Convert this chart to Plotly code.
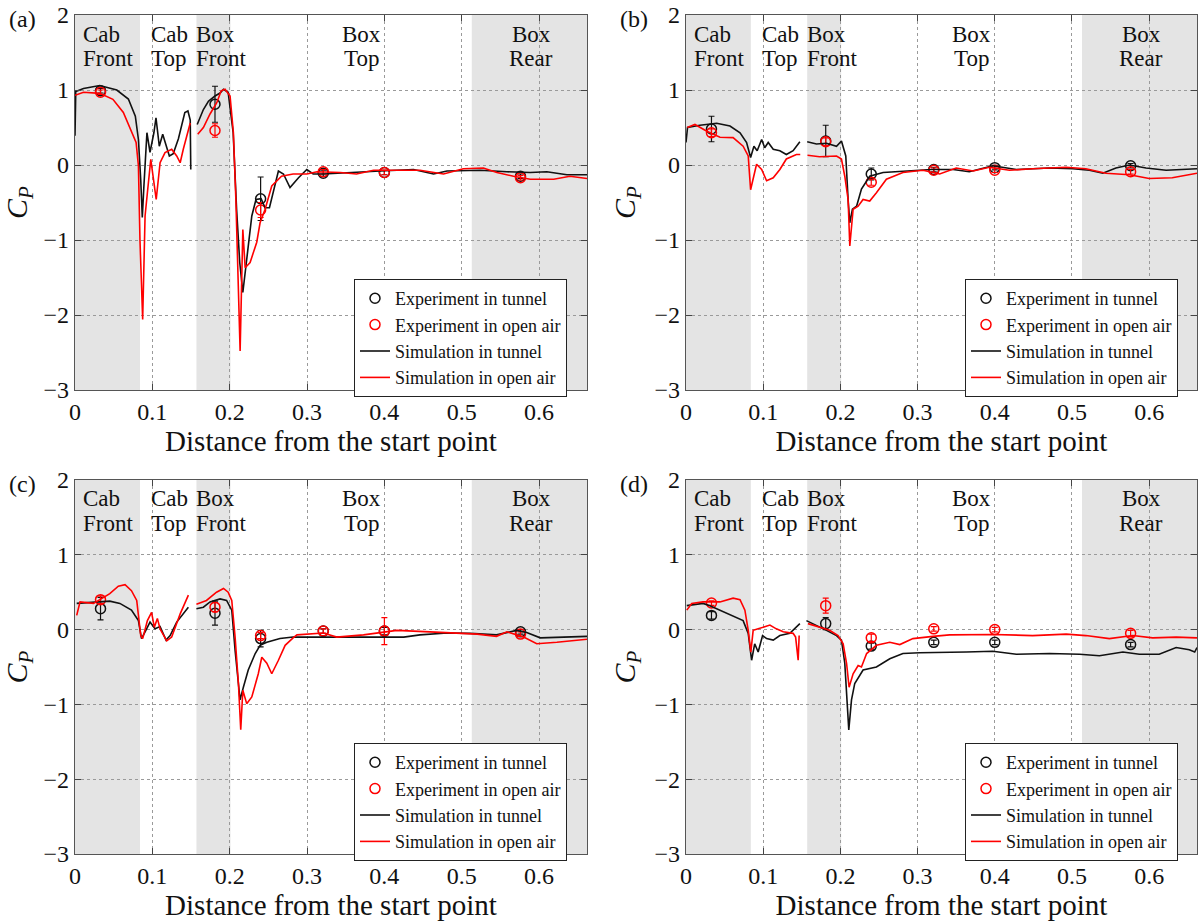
import plotly.graph_objects as go
from plotly.subplots import make_subplots

# Pressure-tap locations shared by all four cases
EXP_X = [0.033, 0.181, 0.240, 0.321, 0.400, 0.576]

# ---------------- (a) ----------------
a_tunnel_x = [0, 0.001, 0.011, 0.032, 0.054, 0.069, 0.078, 0.082, 0.085, 0.087, 0.089, 0.093, 0.097, 0.102,
              0.1047, 0.109, 0.1134, 0.1164, 0.122, 0.127, 0.1337, 0.142, 0.146, 0.149, 0.1497, None,
              0.158, 0.166, 0.1725, 0.181, 0.1876, 0.192, 0.198, 0.2045, 0.209, 0.213, 0.217, 0.222, 0.2286,
              0.234, 0.2406, 0.2458, 0.2514, 0.263, 0.2695, 0.278, 0.289, 0.2997, 0.308, 0.321, 0.351,
              0.3946, 0.4377, 0.4636, 0.481, 0.524, 0.5585, 0.5886, 0.610, 0.636, 0.662]
a_tunnel_y = [0.39, 0.98, 1.02, 1.06, 1.0, 0.88, 0.65, 0.34, -0.2, -0.7, -0.3, 0.43, 0.17, 0.43,
              0.63, 0.25, 0.41, 0.30, 0.12, 0.15, 0.35, 0.70, 0.72, 0.60, -0.06, None,
              0.54, 0.74, 0.85, 0.92, 0.96, 1.01, 0.97, 0.43, -0.6, -1.3, -1.70, -1.26, -0.68,
              -0.46, -0.45, -0.57, -0.57, -0.08, -0.12, -0.30, -0.17, -0.06, -0.12, -0.12, -0.10,
              -0.08, -0.06, -0.12, -0.08, -0.07, -0.09, -0.10, -0.09, -0.13, -0.13]
a_air_x = [0, 0.011, 0.032, 0.049, 0.0625, 0.073, 0.079, 0.082, 0.084, 0.0875, 0.0906, 0.0936, 0.098, 0.105,
           0.11, 0.1164, 0.125, 0.1315, 0.136, 0.14, 0.1466, 0.149, None,
           0.1587, 0.166, 0.1746, 0.1833, 0.189, 0.194, 0.2005, 0.2048, 0.208, 0.2135, 0.217, 0.22, 0.2264,
           0.235, 0.2393, 0.2458, 0.2544, 0.267, 0.282, 0.2997, 0.313, 0.321, 0.343, 0.364, 0.386, 0.416,
           0.446, 0.4765, 0.502, 0.528, 0.5455, 0.567, 0.5886, 0.619, 0.640, 0.662]
a_air_y = [0.93, 0.97, 0.955, 0.876, 0.70, 0.45, 0.30, -0.01, -1.0, -2.06, -0.68, -0.37, 0.076, -0.46,
           0.03, 0.165, 0.21, 0.12, 0.03, 0.21, 0.48, 0.56, None,
           0.41, 0.50, 0.68, 0.83, 0.99, 1.01, 0.92, 0.43, -0.46, -2.48, -0.86, -1.37, -1.30,
           -1.03, -0.77, -0.59, -0.28, -0.15, -0.12, -0.12, -0.09, -0.09, -0.10, -0.12, -0.07, -0.07,
           -0.07, -0.12, -0.05, -0.04, -0.10, -0.15, -0.19, -0.19, -0.15, -0.18]
a_exp_tunnel = [0.99, 0.81, -0.45, -0.11, -0.10, -0.15]
a_err_tunnel = [0.03, 0.24, 0.29, 0.04, 0.03, 0.03]
a_exp_air = [0.97, 0.46, -0.60, -0.09, -0.10, -0.17]
a_err_air = [0.03, 0.09, 0.10, 0.03, 0.03, 0.03]

# ---------------- (b) ----------------
b_tunnel_x = [0.0, 0.002, 0.018, 0.0397, 0.057, 0.07, 0.0785, 0.0837, 0.088, 0.0922, 0.098, 0.102, 0.1065,
              0.113, 0.1216, 0.130, 0.1388, 0.1475, None,
              0.157, 0.169, 0.182, 0.195, 0.2014, 0.207, 0.21, 0.2122, 0.2156, 0.221, 0.2273, 0.238, 0.2553,
              0.281, 0.318, 0.346, 0.367, 0.3975, 0.428, 0.471, 0.501, 0.5226, 0.54, 0.557, 0.5744, 0.596,
              0.622, 0.662]
b_tunnel_y = [0.30, 0.50, 0.53, 0.556, 0.52, 0.43, 0.30, 0.10, 0.25, 0.19, 0.34, 0.23, 0.30,
              0.21, 0.19, 0.14, 0.19, 0.31, None,
              0.31, 0.28, 0.29, 0.25, 0.32, 0.12, -0.46, -0.77, -0.59, -0.55, -0.32, -0.15, -0.10,
              -0.08, -0.06, -0.06, -0.09, -0.01, -0.06, -0.04, -0.05, -0.07, -0.11, -0.04, 0.0, -0.04,
              -0.07, -0.05]
b_air_x = [0.0016, 0.0116, 0.027, 0.0397, 0.044, 0.061, 0.074, 0.0806, 0.0837, 0.0914, 0.098, 0.1044, 0.113,
           0.1216, 0.130, 0.143, 0.148, None,
           0.1574, 0.173, 0.195, 0.2014, 0.2057, 0.21, 0.2122, 0.2165, 0.223, 0.2294, 0.238, 0.2467, 0.2596,
           0.281, 0.307, 0.3286, 0.35, 0.372, 0.393, 0.419, 0.449, 0.4925, 0.518, 0.544, 0.5744, 0.60,
           0.63, 0.662]
b_air_y = [0.50, 0.54, 0.45, 0.39, 0.37, 0.365, 0.25, 0.12, -0.33, 0.01, -0.06, -0.21, -0.17,
           -0.06, 0.08, 0.14, 0.14, None,
           0.13, 0.11, 0.12, 0.08, -0.15, -0.46, -1.08, -0.59, -0.55, -0.46, -0.48, -0.37, -0.19,
           -0.10, -0.07, -0.12, -0.04, -0.08, -0.03, -0.07, -0.05, -0.03, -0.05, -0.11, -0.13, -0.18,
           -0.17, -0.11]
b_exp_tunnel = [0.48, 0.32, -0.12, -0.06, -0.035, -0.01]
b_err_tunnel = [0.17, 0.21, 0.08, 0.03, 0.03, 0.03]
b_exp_air = [0.43, 0.31, -0.23, -0.07, -0.07, -0.09]
b_err_air = [0.05, 0.05, 0.04, 0.03, 0.03, 0.03]

# ---------------- (c) ----------------
c_tunnel_x = [0.0022, 0.024, 0.045, 0.058, 0.073, 0.082, 0.086, 0.0906, 0.097, 0.1035, 0.11, 0.1177, 0.123,
              0.1315, 0.1466, None,
              0.157, 0.166, 0.1746, 0.1876, 0.196, 0.2027, 0.207, 0.2134, 0.2177, 0.224, 0.233, 0.2393, 0.248,
              0.265, 0.282, 0.317, 0.3816, 0.425, 0.446, 0.481, 0.511, 0.545, 0.571, 0.584, 0.6016, 0.627,
              0.662]
c_tunnel_y = [0.35, 0.37, 0.38, 0.35, 0.26, 0.12, -0.12, -0.03, 0.10, 0.01, 0.04, -0.14, -0.08,
              0.10, 0.30, None,
              0.28, 0.30, 0.37, 0.41, 0.39, 0.26, -0.28, -0.94, -0.77, -0.54, -0.32, -0.21, -0.17,
              -0.12, -0.10, -0.10, -0.10, -0.10, -0.07, -0.045, -0.05, -0.07, -0.01, -0.04, -0.11, -0.10,
              -0.09]
c_air_x = [0.0022, 0.0065, 0.024, 0.032, 0.045, 0.056, 0.0647, 0.073, 0.0798, 0.085, 0.0875, 0.0936, 0.099,
           0.1026, 0.1065, 0.11, 0.1186, 0.125, 0.136, 0.1466, None,
           0.157, 0.170, 0.183, 0.192, 0.198, 0.2027, 0.207, 0.2113, 0.2143, 0.217, 0.222, 0.2286, 0.237,
           0.2415, 0.248, 0.2544, 0.263, 0.2717, 0.282, 0.287, 0.321, 0.3385, 0.373, 0.399, 0.416, 0.459,
           0.489, 0.52, 0.545, 0.5585, 0.58, 0.597, 0.623, 0.662]
c_air_y = [0.19, 0.37, 0.35, 0.40, 0.48, 0.58, 0.60, 0.52, 0.39, -0.08, -0.12, 0.12, 0.23,
           0.03, 0.15, 0.01, -0.15, -0.10, 0.21, 0.46, None,
           0.34, 0.39, 0.50, 0.55, 0.50, 0.39, -0.10, -0.72, -1.34, -0.81, -0.99, -0.90, -0.59,
           -0.37, -0.45, -0.59, -0.41, -0.21, -0.11, -0.07, -0.045, -0.10, -0.07, -0.03, -0.01, -0.03,
           -0.045, -0.06, -0.09, -0.03, -0.10, -0.19, -0.17, -0.13]
c_exp_tunnel = [0.28, 0.22, -0.12, -0.02, -0.02, -0.03]
c_err_tunnel = [0.15, 0.16, 0.11, 0.03, 0.05, 0.03]
c_exp_air = [0.40, 0.30, -0.08, -0.02, -0.02, -0.06]
c_err_air = [0.05, 0.06, 0.04, 0.03, 0.18, 0.03]

# ---------------- (d) ----------------
d_tunnel_x = [0.001, 0.022, 0.031, 0.044, 0.061, 0.074, 0.0806, 0.085, 0.089, 0.0935, 0.0992, 0.1044, 0.113,
              0.1216, 0.1345, 0.1475, None,
              0.156, 0.169, 0.182, 0.195, 0.2014, 0.2057, 0.2109, 0.2144, 0.2186, 0.2294, 0.2467, 0.264,
              0.281, 0.3027, 0.324, 0.363, 0.3975, 0.428, 0.471, 0.51, 0.5356, 0.566, 0.5873, 0.613, 0.635,
              0.652, 0.659, 0.662]
d_tunnel_y = [0.32, 0.35, 0.32, 0.26, 0.19, 0.12, -0.05, -0.41, -0.19, -0.30, -0.08, -0.12, -0.14,
              -0.08, -0.05, 0.08, None,
              0.12, 0.06, -0.01, -0.08, -0.14, -0.45, -1.34, -0.94, -0.72, -0.54, -0.50, -0.39,
              -0.32, -0.31, -0.31, -0.30, -0.29, -0.33, -0.32, -0.33, -0.35, -0.30, -0.33, -0.33, -0.24,
              -0.27, -0.30, -0.24]
d_air_x = [0.001, 0.0074, 0.022, 0.044, 0.061, 0.070, 0.0763, 0.0806, 0.084, 0.087, 0.0935, 0.10, 0.1087,
           0.117, 0.126, 0.1388, 0.142, 0.1453, 0.1466, None,
           0.158, 0.173, 0.186, 0.197, 0.2036, 0.208, 0.2113, 0.2165, 0.223, 0.2273, 0.234, 0.2467, 0.264,
           0.277, 0.294, 0.32, 0.3415, 0.3975, 0.449, 0.4925, 0.518, 0.5485, 0.5787, 0.6046, 0.635, 0.662]
d_air_y = [0.26, 0.35, 0.37, 0.37, 0.42, 0.40, 0.26, -0.01, -0.30, -0.01, 0.01, 0.035, 0.06,
           0.01, -0.03, -0.05, -0.10, -0.41, -0.08, None,
           0.08, 0.035, -0.01, -0.08, -0.19, -0.45, -0.77, -0.59, -0.48, -0.50, -0.32, -0.21, -0.17,
           -0.20, -0.12, -0.09, -0.07, -0.065, -0.08, -0.06, -0.08, -0.12, -0.08, -0.11, -0.10, -0.11]
d_exp_tunnel = [0.19, 0.08, -0.22, -0.17, -0.17, -0.20]
d_err_tunnel = [0.05, 0.08, 0.04, 0.03, 0.03, 0.03]
d_exp_air = [0.355, 0.32, -0.11, 0.01, 0.0, -0.05]
d_err_air = [0.03, 0.10, 0.05, 0.03, 0.03, 0.04]

# Surface regions: shaded spans and their two-line labels
SHADED = [(0.0, 0.084), (0.157, 0.201), (0.513, 0.662)]
REGION_LABELS = [("Cab", "Front", 0.008, "left"), ("Cab", "Top", 0.096, "left"),
                 ("Box", "Front", 0.154, "left"), ("Box", "Top", 0.37, "center"),
                 ("Box", "Rear", 0.59, "center")]
X_TICKS = [0, 0.1, 0.2, 0.3, 0.4, 0.5, 0.6]
X_TICKTEXT = ["0", "0.1", "0.2", "0.3", "0.4", "0.5", "0.6"]
Y_TICKS = [-3, -2, -1, 0, 1, 2]

panels = [
    ("(a)", a_tunnel_x, a_tunnel_y, a_air_x, a_air_y, a_exp_tunnel, a_err_tunnel, a_exp_air, a_err_air),
    ("(b)", b_tunnel_x, b_tunnel_y, b_air_x, b_air_y, b_exp_tunnel, b_err_tunnel, b_exp_air, b_err_air),
    ("(c)", c_tunnel_x, c_tunnel_y, c_air_x, c_air_y, c_exp_tunnel, c_err_tunnel, c_exp_air, c_err_air),
    ("(d)", d_tunnel_x, d_tunnel_y, d_air_x, d_air_y, d_exp_tunnel, d_err_tunnel, d_exp_air, d_err_air),
]

W, H = 1200, 923
FONT = "Liberation Serif"
RED = "#ff0000"
BLACK = "#111111"

# pixel boxes of each axes: (left, right, top, bottom)
boxes = [(75, 587, 15, 390), (686, 1197, 15, 390), (75, 587, 480, 854), (686, 1197, 480, 854)]
legend_pos = [(354, 279), (965, 279), (354, 743), (965, 743)]

fig = make_subplots(rows=2, cols=2)
layout_upd = {}
annotations = []
shapes = []

for i, (tag, tx, ty, ax, ay, et, eet, ea, eea) in enumerate(panels):
    row, col = i // 2 + 1, i % 2 + 1
    leg = "legend" if i == 0 else f"legend{i + 1}"
    xs = "x" if i == 0 else f"x{i + 1}"
    ys = "y" if i == 0 else f"y{i + 1}"

    fig.add_trace(go.Scatter(x=EXP_X, y=et, mode="markers", name="Experiment in tunnel",
                             marker=dict(symbol="circle-open", size=10, color=BLACK, line=dict(width=1.5)),
                             error_y=dict(type="data", array=eet, color=BLACK, thickness=1.2, width=3),
                             legend=leg), row=row, col=col)
    fig.add_trace(go.Scatter(x=EXP_X, y=ea, mode="markers", name="Experiment in open air",
                             marker=dict(symbol="circle-open", size=10, color=RED, line=dict(width=1.5)),
                             error_y=dict(type="data", array=eea, color=RED, thickness=1.2, width=3),
                             legend=leg), row=row, col=col)
    fig.add_trace(go.Scatter(x=tx, y=ty, mode="lines", name="Simulation in tunnel",
                             line=dict(color=BLACK, width=1.6), legend=leg), row=row, col=col)
    fig.add_trace(go.Scatter(x=ax, y=ay, mode="lines", name="Simulation in open air",
                             line=dict(color=RED, width=1.6), legend=leg), row=row, col=col)

    l, r, t, b = boxes[i]
    xname = "xaxis" if i == 0 else f"xaxis{i + 1}"
    yname = "yaxis" if i == 0 else f"yaxis{i + 1}"
    layout_upd[xname] = dict(
        domain=[l / W, r / W], range=[0, 0.662], tickvals=X_TICKS, ticktext=X_TICKTEXT,
        automargin=False,
        showgrid=True, gridcolor="#9a9a9a", griddash="dot", gridwidth=1, zeroline=False,
        showline=True, linecolor="#555555", linewidth=1.2, mirror="ticks", ticks="inside",
        ticklen=6, tickcolor="#444444", tickfont=dict(family=FONT, size=24, color="#111"),
        title=dict(text="Distance from the start point", font=dict(family=FONT, size=29, color="#111"),
                   standoff=4))
    layout_upd[yname] = dict(
        domain=[1 - b / H, 1 - t / H], range=[-3, 2], tickvals=Y_TICKS,
        automargin=False,
        showgrid=True, gridcolor="#9a9a9a", griddash="dot", gridwidth=1, zeroline=False,
        showline=True, linecolor="#555555", linewidth=1.2, mirror="ticks", ticks="inside",
        ticklen=6, tickcolor="#444444", tickfont=dict(family=FONT, size=24, color="#111"),
        title=dict(text="<i>C<sub>P</sub></i>", font=dict(family=FONT, size=30, color="#111"),
                   standoff=10))

    lx, lt = legend_pos[i]
    layout_upd[leg] = dict(x=lx / W, y=1 - lt / H, xanchor="left", yanchor="top",
                           bgcolor="white", bordercolor="#222", borderwidth=1,
                           font=dict(family=FONT, size=18, color="#111"),
                           itemwidth=30, tracegroupgap=0)

    for x0, x1 in SHADED:
        shapes.append(dict(type="rect", xref=xs, yref=ys, x0=x0, x1=x1, y0=-3, y1=2,
                           fillcolor="#e4e4e4", line=dict(width=0), layer="below"))
    for top_word, bottom_word, xpos, anchor in REGION_LABELS:
        for word, shift in ((top_word, -19), (bottom_word, -43)):
            annotations.append(dict(text=word, x=xpos, y=2, xref=xs, yref=ys, xanchor=anchor,
                                    yanchor="middle", showarrow=False, yshift=shift,
                                    font=dict(family=FONT, size=23, color="#111")))
    annotations.append(dict(text=tag, x=(l - 68) / W, y=1 - (t + 4) / H, xref="paper", yref="paper",
                            xanchor="left", yanchor="middle", showarrow=False,
                            font=dict(family=FONT, size=24, color="#111")))

fig.update_layout(**layout_upd)
fig.update_layout(width=W, height=H, margin=dict(l=0, r=0, t=0, b=0),
                  paper_bgcolor="white", plot_bgcolor="white",
                  shapes=shapes, annotations=annotations, showlegend=True)

fig.write_html("out.html")
